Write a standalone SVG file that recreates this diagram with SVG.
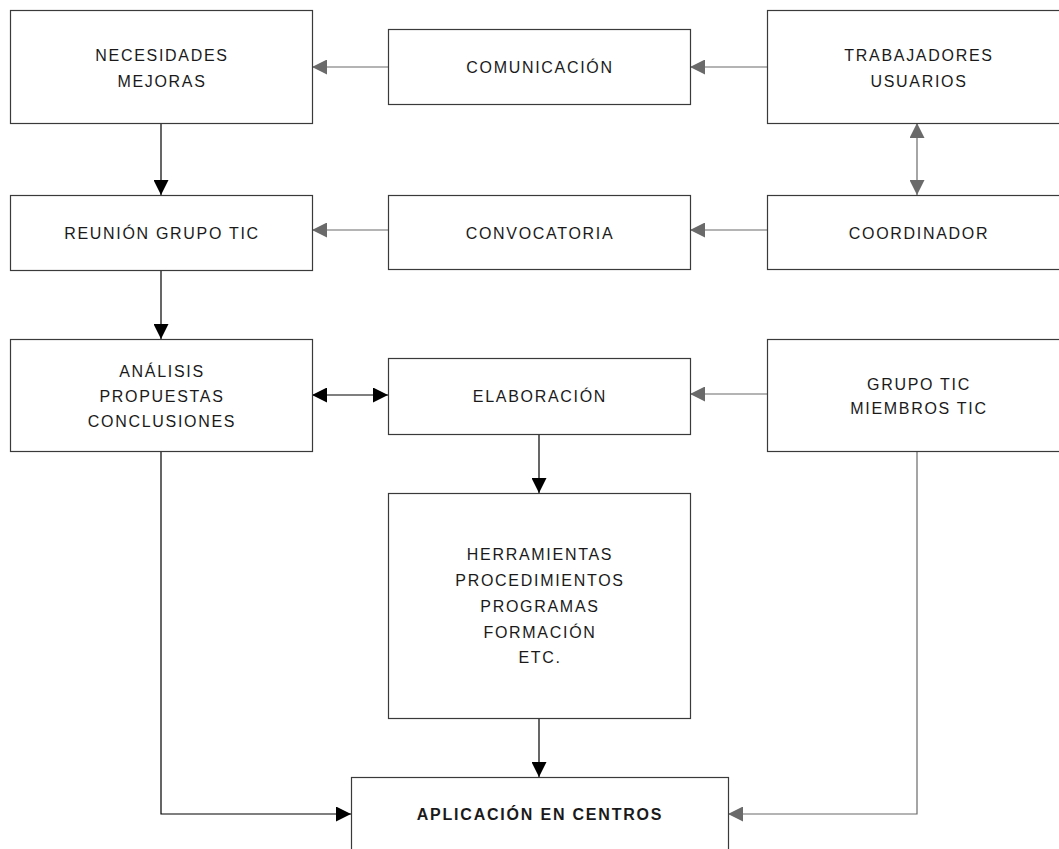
<svg xmlns="http://www.w3.org/2000/svg" width="1059" height="849" viewBox="0 0 1059 849">
<defs>
<style>
.box{fill:#fff;stroke:#3a3a3a;stroke-width:1.2}
.t{font-family:"Liberation Sans",Arial,Helvetica,sans-serif;font-size:16px;letter-spacing:1.7px;fill:#1a1a1a;text-anchor:middle}
.tb{font-weight:bold;letter-spacing:1.8px}
.k{fill:none;stroke:#000;stroke-width:1.2}
.g{fill:none;stroke:#6a6a6a;stroke-width:1.2}
</style>
<marker id="ak" markerUnits="userSpaceOnUse" markerWidth="15" markerHeight="15" refX="15" refY="7.5" orient="auto-start-reverse" viewBox="0 0 15 15"><path d="M0,0L15,7.5L0,15z" fill="#000"/></marker>
<marker id="ag" markerUnits="userSpaceOnUse" markerWidth="15" markerHeight="15" refX="15" refY="7.5" orient="auto-start-reverse" viewBox="0 0 15 15"><path d="M0,0L15,7.5L0,15z" fill="#6a6a6a"/></marker>
</defs>
<rect width="1059" height="849" fill="#fff"/>
<g id="connectors">
<path class="g" d="M767,67H690" marker-end="url(#ag)"/>
<path class="g" d="M388,67H312" marker-end="url(#ag)"/>
<path class="g" d="M917,123V195" marker-start="url(#ag)" marker-end="url(#ag)"/>
<path class="g" d="M767,230H690" marker-end="url(#ag)"/>
<path class="g" d="M388,230H312" marker-end="url(#ag)"/>
<path class="k" d="M161,123V195" marker-end="url(#ak)"/>
<path class="k" d="M161,270V339" marker-end="url(#ak)"/>
<path class="k" d="M312,395H388" marker-start="url(#ak)" marker-end="url(#ak)"/>
<path class="g" d="M767,394H690" marker-end="url(#ag)"/>
<path class="k" d="M539,434V493" marker-end="url(#ak)"/>
<path class="k" d="M539,719V777" marker-end="url(#ak)"/>
<path class="k" d="M161,451V814H351" marker-end="url(#ak)"/>
<path class="g" d="M917,452V814H728" marker-end="url(#ag)"/>
</g>
<g id="necesidades"><rect class="box" x="10.5" y="10.5" width="302" height="113"/><text class="t" x="162" y="61">NECESIDADES</text><text class="t" x="162" y="87">MEJORAS</text></g>
<g id="comunicacion"><rect class="box" x="388.5" y="29.5" width="302" height="75"/><text class="t" x="540" y="73">COMUNICACIÓN</text></g>
<g id="trabajadores"><rect class="box" x="767.5" y="10.5" width="302" height="113"/><text class="t" x="919" y="61">TRABAJADORES</text><text class="t" x="919" y="87">USUARIOS</text></g>
<g id="reunion"><rect class="box" x="10.5" y="195.5" width="302" height="75"/><text class="t" x="162" y="238.5">REUNIÓN GRUPO TIC</text></g>
<g id="convocatoria"><rect class="box" x="388.5" y="195.5" width="302" height="74"/><text class="t" x="540" y="238.5">CONVOCATORIA</text></g>
<g id="coordinador"><rect class="box" x="767.5" y="195.5" width="302" height="74"/><text class="t" x="919" y="238.5">COORDINADOR</text></g>
<g id="analisis"><rect class="box" x="10.5" y="339.5" width="302" height="112"/><text class="t" x="162" y="376.5">ANÁLISIS</text><text class="t" x="162" y="402">PROPUESTAS</text><text class="t" x="162" y="426.5">CONCLUSIONES</text></g>
<g id="elaboracion"><rect class="box" x="388.5" y="358.5" width="302" height="76"/><text class="t" x="540" y="401.5">ELABORACIÓN</text></g>
<g id="grupotic"><rect class="box" x="767.5" y="339.5" width="302" height="112"/><text class="t" x="919" y="390">GRUPO TIC</text><text class="t" x="919" y="414">MIEMBROS TIC</text></g>
<g id="herramientas"><rect class="box" x="388.5" y="493.5" width="302" height="225"/><text class="t" x="540" y="560">HERRAMIENTAS</text><text class="t" x="540" y="586">PROCEDIMIENTOS</text><text class="t" x="540" y="612">PROGRAMAS</text><text class="t" x="540" y="638">FORMACIÓN</text><text class="t" x="540" y="663">ETC.</text></g>
<g id="aplicacion"><rect class="box" x="351.5" y="777.5" width="377" height="120"/><text class="t tb" x="540" y="819.5">APLICACIÓN EN CENTROS</text></g>
</svg>
